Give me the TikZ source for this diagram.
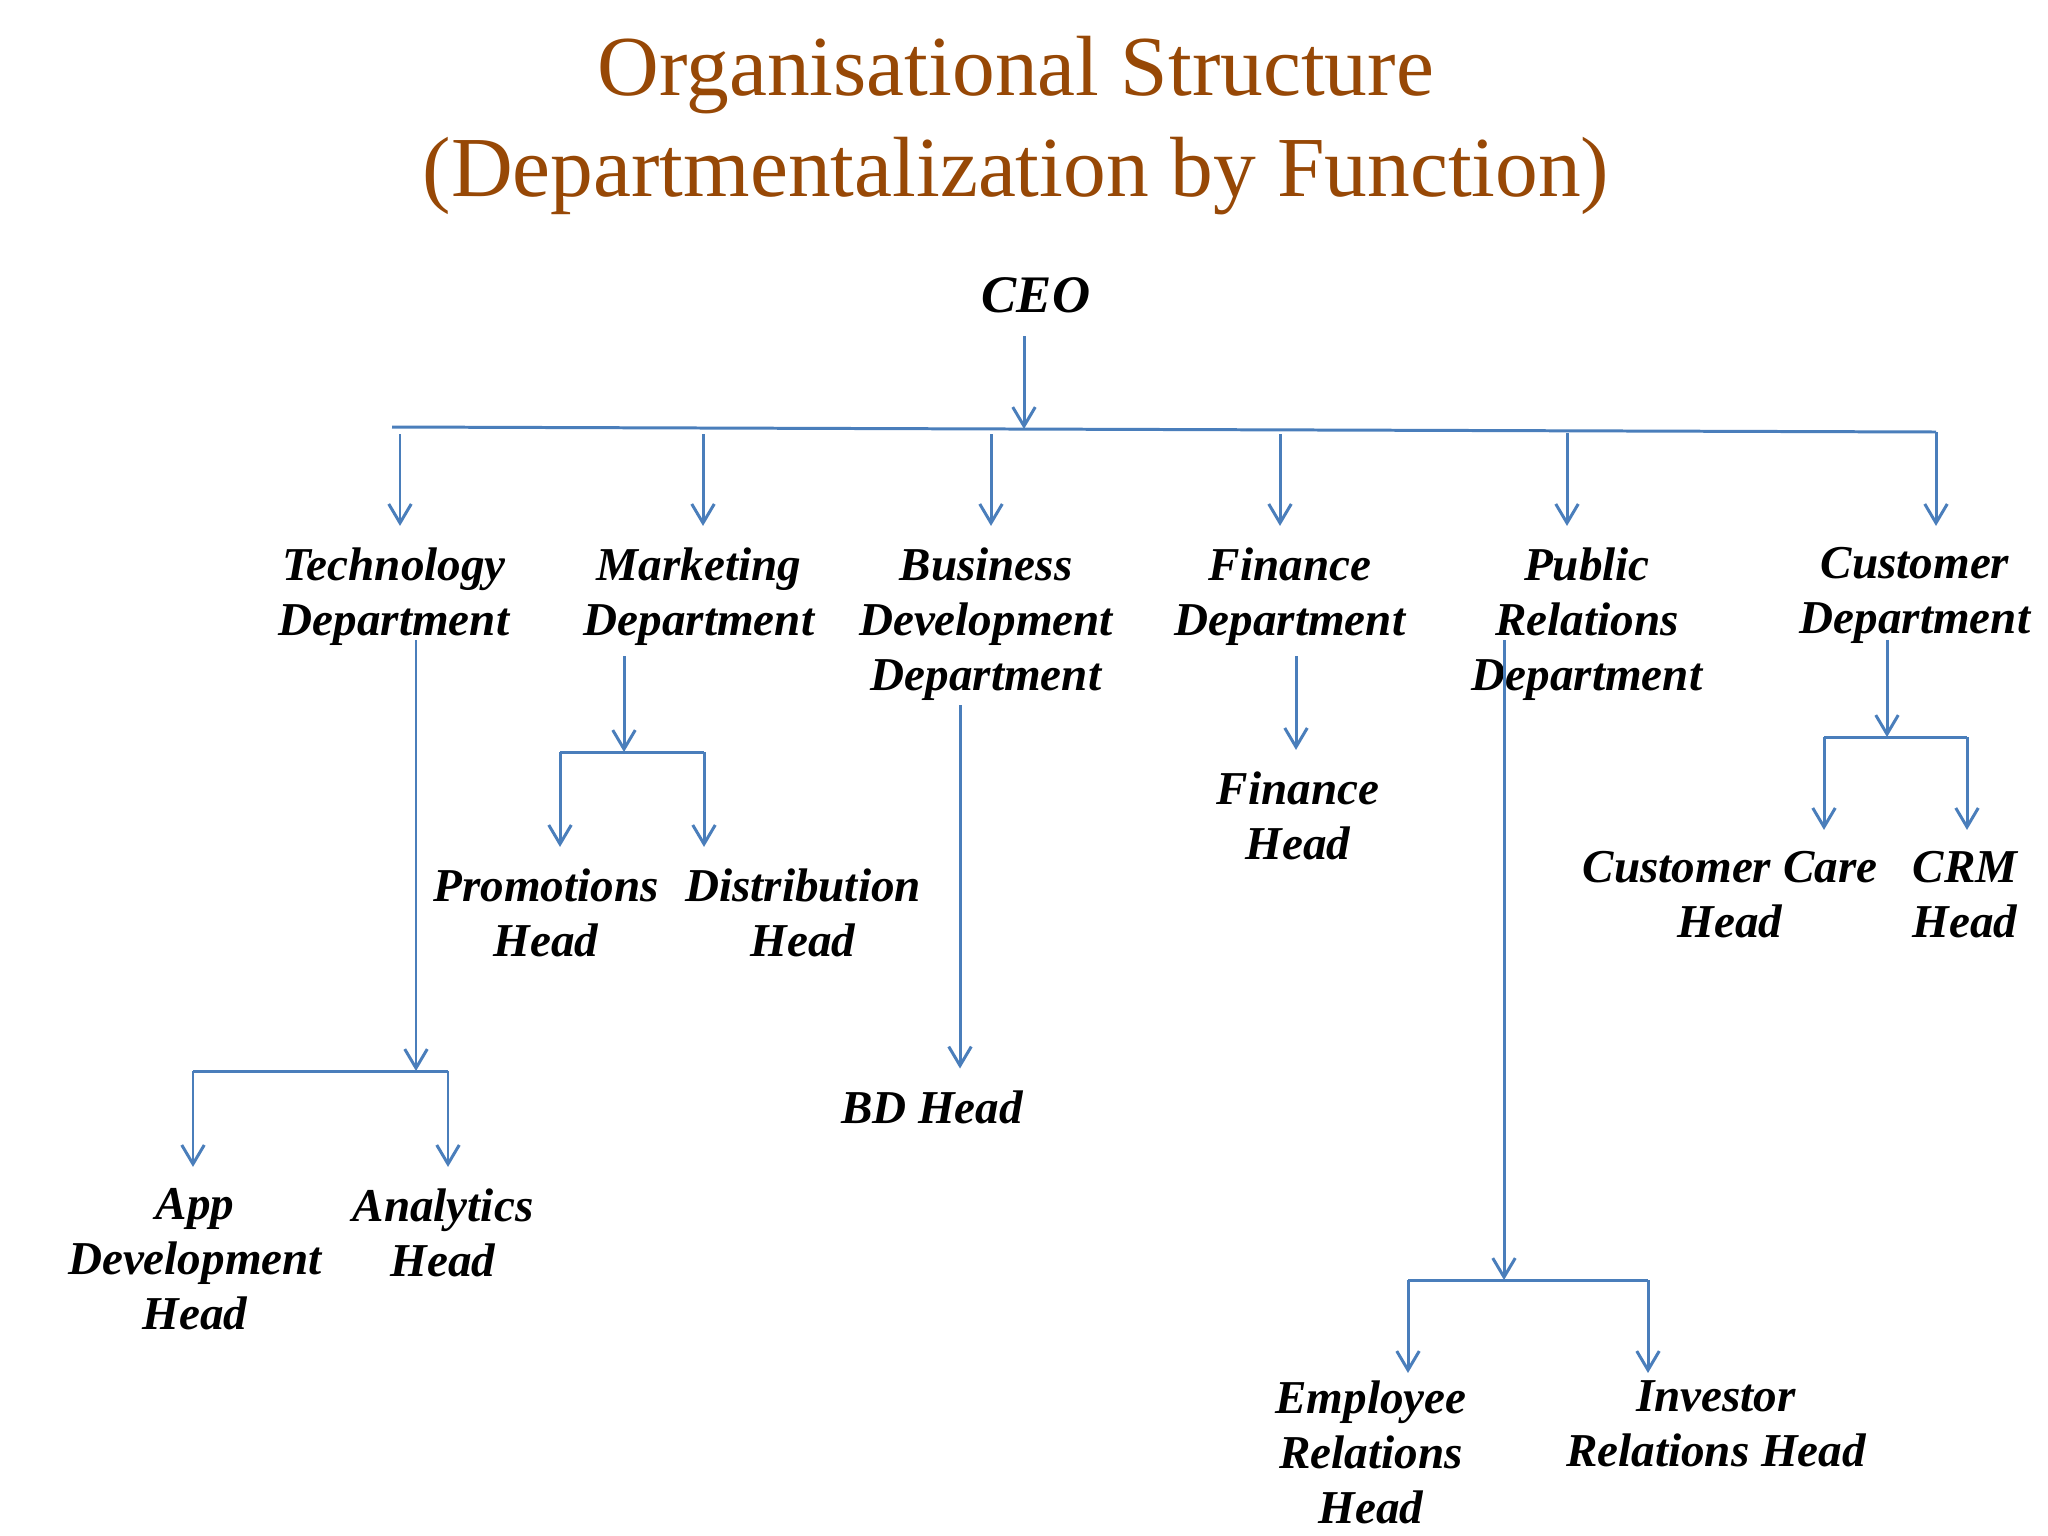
\documentclass[tikz,border=0pt]{standalone}
\usepackage{fontspec}
\setmainfont{Liberation Serif}
\usepackage{xcolor}
\usetikzlibrary{arrows.meta}
\definecolor{titlebrown}{RGB}{151,72,6}
\definecolor{linkblue}{RGB}{74,126,187}

\begin{document}
\begin{tikzpicture}[x=0.01cm, y=-0.01cm,
            title/.style={font=\fontsize{24.3}{29}\selectfont, text=titlebrown, align=center, inner sep=0pt, anchor=north},
            unit/.style={font=\fontsize{13.4}{15.6}\selectfont\bfseries\itshape, align=center, inner sep=0pt, anchor=north,
                execute at begin node=\vphantom{Hl}},
            link/.style={draw=linkblue, line width=0.85pt},
            arr/.style={link, -{Straight Barb[length=5.4pt,width=6.4pt]}},
            reach/.style={arr, shorten >=6pt}]
            \fill[white] (0,0) rectangle (2048,1536);
            \useasboundingbox (0,0) rectangle (2048,1536);

            \node[title] (title) at (1016,35) {Organisational Structure\\(Departmentalization by Function)};
            \node[unit, anchor=base, font=\fontsize{15}{18}\selectfont\bfseries\itshape] (ceo) at (1036,312) {CEO};

            % departments
            \node[unit] (tech) at (394,547) {Technology\\Department};
            \node[unit] (mkt) at (699,547) {Marketing\\Department};
            \node[unit] (bizdev) at (986,547) {Business\\Development\\Department};
            \node[unit] (fin) at (1290,547) {Finance\\Department};
            \node[unit] (pr) at (1587,547) {Public\\Relations\\Department};
            \node[unit] (cust) at (1915,547) {Customer\\Department};

            % heads
            \node[unit] (promohead) at (546,868) {Promotions\\Head};
            \node[unit] (distrhead) at (803,868) {Distribution\\Head};
            \node[unit, anchor=base] (bdhead) at (932,1123) {BD Head};
            \node[unit] (finhead) at (1298,771) {Finance\\Head};
            \node[unit] (apphead) at (195,1188) {App\\Development\\Head};
            \node[unit] (anahead) at (443,1188) {Analytics\\Head};
            \node[unit] (carehead) at (1730,851) {Customer Care\\Head};
            \node[unit] (crmhead) at (1965,851) {CRM\\Head};
            \node[unit] (emphead) at (1371,1380) {Employee\\Relations\\Head};
            \node[unit] (invhead) at (1716,1380) {Investor\\Relations Head};

            % junction points
            \coordinate (ceotop) at (1024,336);
            \coordinate (ceobus) at (1024,429);
            \coordinate (busL) at (392,427);
            \coordinate (busR) at (1936,432);
            \coordinate (techdrop) at (400,434);
            \coordinate (mktdrop) at (703,434);
            \coordinate (bizdrop) at (991,434);
            \coordinate (findrop) at (1280,434);
            \coordinate (prdrop) at (1567,433);

            \coordinate (techfrom) at (416,640);
            \coordinate (techjoin) at (416,1071);
            \coordinate (techL) at (193,1071);
            \coordinate (techR) at (448,1071);
            \coordinate (mktfrom) at (624,656);
            \coordinate (mktjoin) at (624,752);
            \coordinate (mktL) at (560,752);
            \coordinate (mktR) at (704,752);
            \coordinate (bizfrom) at (960,705);
            \coordinate (finfrom) at (1296,656);
            \coordinate (prfrom) at (1504,640);
            \coordinate (prjoin) at (1504,1280);
            \coordinate (prL) at (1408,1280);
            \coordinate (prR) at (1648,1280);
            \coordinate (custfrom) at (1887,640);
            \coordinate (custjoin) at (1887,737);
            \coordinate (custL) at (1824,737);
            \coordinate (custR) at (1967,737);

            % CEO to departments
            \draw[arr] (ceotop) -- (ceobus);
            \draw[link] (busL) -- (busR);
            \draw[reach] (techdrop) -- (techdrop |- tech.north);
            \draw[reach] (mktdrop) -- (mktdrop |- mkt.north);
            \draw[reach] (bizdrop) -- (bizdrop |- bizdev.north);
            \draw[reach] (findrop) -- (findrop |- fin.north);
            \draw[reach] (prdrop) -- (prdrop |- pr.north);
            \draw[reach] (busR) -- (busR |- cust.north);

            % departments to heads
            \draw[arr] (techfrom) -- (techjoin);
            \draw[link] (techL) -- (techR);
            \draw[reach] (techL) -- (techL |- apphead.north);
            \draw[reach] (techR) -- (techR |- anahead.north);

            \draw[arr] (mktfrom) -- (mktjoin);
            \draw[link] (mktL) -- (mktR);
            \draw[reach] (mktL) -- (mktL |- promohead.north);
            \draw[reach] (mktR) -- (mktR |- distrhead.north);

            \draw[reach] (bizfrom) -- (bizfrom |- bdhead.north);
            \draw[reach] (finfrom) -- (finfrom |- finhead.north);

            \draw[arr] (prfrom) -- (prjoin);
            \draw[link] (prL) -- (prR);
            \draw[reach, shorten >=2pt] (prL) -- (prL |- emphead.north);
            \draw[reach, shorten >=2pt] (prR) -- (prR |- invhead.north);

            \draw[arr] (custfrom) -- (custjoin);
            \draw[link] (custL) -- (custR);
            \draw[reach] (custL) -- (custL |- carehead.north);
            \draw[reach] (custR) -- (custR |- crmhead.north);
        \end{tikzpicture}
\end{document}
